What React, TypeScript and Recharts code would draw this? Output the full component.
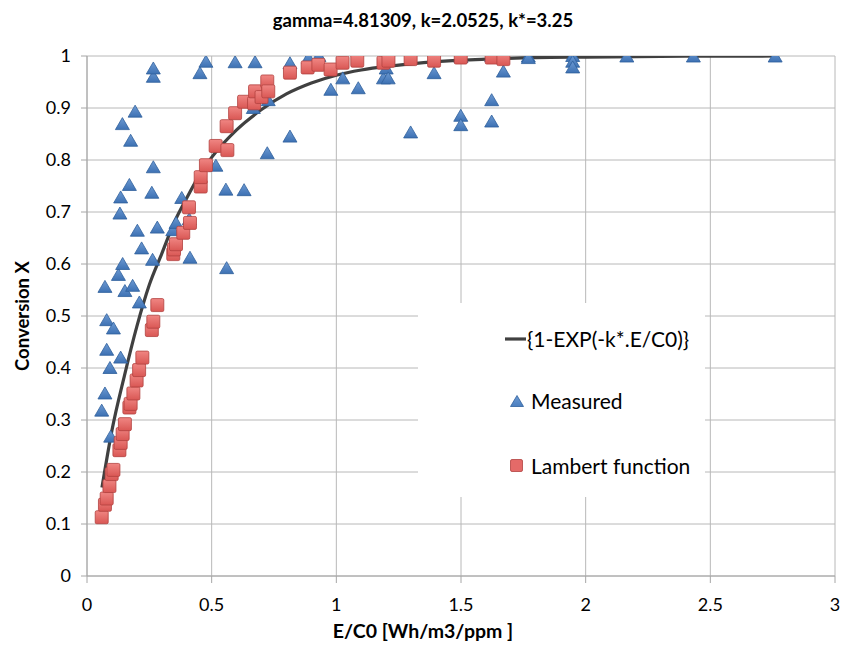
import React from 'react';
import { ComposedChart, Line, Scatter, XAxis, YAxis, CartesianGrid } from 'recharts';

const xTicks = [0, 0.5, 1, 1.5, 2, 2.5, 3];
const yTicks = [0, 0.1, 0.2, 0.3, 0.4, 0.5, 0.6, 0.7, 0.8, 0.9, 1];

const titleText = 'gamma=4.81309, k=2.0525, k*=3.25';
const xTitle = 'E/C0 [Wh/m3/ppm ]';
const yTitle = 'Conversion X';
const curveName = '{1-EXP(-k*.E/C0)}';
const measuredName = 'Measured';
const lambertName = 'Lambert function';

// Fitted curve
const curveX = [0.06, 0.1, 0.15, 0.2, 0.25, 0.3, 0.35, 0.4, 0.45, 0.5, 0.6, 0.7, 0.8, 0.9, 1.0, 1.1, 1.2, 1.3, 1.4, 1.5, 1.6, 1.8, 2.0, 2.4, 2.76];
const curveY = [0.17, 0.28, 0.385, 0.48, 0.56, 0.62, 0.68, 0.727, 0.77, 0.805, 0.858, 0.897, 0.927, 0.948, 0.963, 0.973, 0.98, 0.985, 0.989, 0.992, 0.994, 0.997, 0.998, 0.9995, 1.0];

// Measured points
const measuredX = [0.059, 0.072, 0.079, 0.079, 0.072, 0.092, 0.106, 0.095, 0.135, 0.126, 0.143, 0.152, 0.132, 0.135, 0.142, 0.17, 0.175, 0.193, 0.183, 0.202, 0.21, 0.219, 0.263, 0.26, 0.266, 0.266, 0.266, 0.282, 0.344, 0.357, 0.38, 0.41, 0.413, 0.453, 0.477, 0.517, 0.557, 0.56, 0.594, 0.63, 0.674, 0.667, 0.723, 0.727, 0.814, 0.814, 0.888, 0.93, 0.978, 1.026, 1.088, 1.189, 1.2, 1.208, 1.298, 1.392, 1.499, 1.499, 1.5, 1.623, 1.623, 1.623, 1.67, 1.77, 1.77, 1.948, 1.948, 1.948, 2.165, 2.432, 2.76];
const measuredY = [0.318, 0.351, 0.435, 0.492, 0.556, 0.4, 0.476, 0.268, 0.42, 0.579, 0.6, 0.548, 0.697, 0.728, 0.869, 0.752, 0.837, 0.893, 0.558, 0.664, 0.526, 0.63, 0.608, 0.737, 0.786, 0.96, 0.976, 0.67, 0.665, 0.679, 0.727, 0.686, 0.612, 0.967, 0.989, 0.789, 0.743, 0.592, 0.988, 0.742, 0.988, 0.9, 0.813, 0.915, 0.845, 0.986, 0.996, 1.0, 0.935, 0.957, 0.938, 0.957, 0.976, 0.957, 0.853, 0.967, 0.885, 0.867, 0.998, 0.915, 0.874, 1.0, 0.97, 0.999, 0.996, 1.0, 0.989, 0.978, 0.999, 0.999, 0.999];

// Lambert function points
const lambertX = [0.059, 0.072, 0.079, 0.09, 0.099, 0.106, 0.13, 0.135, 0.143, 0.152, 0.17, 0.175, 0.186, 0.199, 0.209, 0.222, 0.26, 0.266, 0.282, 0.346, 0.349, 0.357, 0.386, 0.409, 0.413, 0.456, 0.456, 0.477, 0.516, 0.563, 0.56, 0.594, 0.63, 0.67, 0.674, 0.7, 0.723, 0.727, 0.814, 0.885, 0.928, 0.977, 1.025, 1.084, 1.189, 1.209, 1.298, 1.392, 1.499, 1.623, 1.67];
const lambertY = [0.113, 0.137, 0.149, 0.173, 0.196, 0.204, 0.242, 0.256, 0.273, 0.292, 0.324, 0.331, 0.351, 0.376, 0.396, 0.42, 0.473, 0.489, 0.521, 0.619, 0.628, 0.638, 0.66, 0.709, 0.679, 0.749, 0.767, 0.79, 0.827, 0.819, 0.865, 0.89, 0.912, 0.909, 0.932, 0.921, 0.951, 0.932, 0.968, 0.978, 0.983, 0.974, 0.987, 0.991, 0.987, 0.991, 0.994, 0.991, 0.997, 0.997, 0.994];

const curveData = curveX.map((x, i) => ({ x, y: curveY[i] }));
const measuredData = measuredX.map((x, i) => ({ x, y: measuredY[i] }));
const lambertData = lambertX.map((x, i) => ({ x, y: lambertY[i] }));

const FONT = 'Lato, "Open Sans", sans-serif';
const BLUE = '#4a7ebf';
const BLUE_EDGE = '#2f5f9c';
const RED = '#e46a68';
const RED_EDGE = '#b2413f';

const Triangle = (props: any) => {
  const { cx, cy } = props;
  if (cx == null || cy == null) return null;
  return (
    <polygon
      points={`${cx},${cy - 6.5} ${cx - 7},${cy + 5.5} ${cx + 7},${cy + 5.5}`}
      fill="url(#triGrad)"
      stroke={BLUE_EDGE}
      strokeWidth={0.8}
    />
  );
};

const Square = (props: any) => {
  const { cx, cy } = props;
  if (cx == null || cy == null) return null;
  return (
    <rect x={cx - 6.5} y={cy - 6.5} width={13} height={13} rx={1.5} fill="url(#sqGrad)" stroke={RED_EDGE} strokeWidth={0.8} />
  );
};

export default function App() {
  return (
    <div style={{ position: 'absolute', left: 0, top: 0, width: 842, height: 648, background: '#fff', fontFamily: FONT }}>
      <div
        style={{
          position: 'absolute',
          left: 0,
          width: 846,
          top: 8,
          textAlign: 'center',
          fontWeight: 700,
          fontSize: 18.5,
          lineHeight: '24px',
          color: '#000',
        }}
      >
        {titleText}
      </div>
      <ComposedChart width={842} height={648} margin={{ top: 56, right: 7, left: 0, bottom: 0 }} style={{ overflow: 'visible' }}>
        <defs>
          <linearGradient id="triGrad" x1="0" y1="0" x2="0" y2="1">
            <stop offset="0%" stopColor="#6d9ad3" />
            <stop offset="100%" stopColor="#3d71b3" />
          </linearGradient>
          <linearGradient id="sqGrad" x1="0" y1="0" x2="0" y2="1">
            <stop offset="0%" stopColor="#f08683" />
            <stop offset="100%" stopColor="#d95754" />
          </linearGradient>
        </defs>
        <CartesianGrid stroke="#b8b8b8" strokeWidth={1} vertical horizontal />
        <XAxis
          type="number"
          dataKey="x"
          domain={[0, 3]}
          ticks={xTicks}
          tickFormatter={(v: number) => String(v)}
          allowDataOverflow
          height={72}
          stroke="#a6a6a6"
          tickSize={7}
          tickMargin={15}
          tick={{ fill: '#000', fontSize: 18, fontFamily: FONT }}
        />
        <YAxis
          type="number"
          dataKey="y"
          domain={[0, 1]}
          ticks={yTicks}
          tickFormatter={(v: number) => String(v)}
          allowDataOverflow
          width={87}
          stroke="#a6a6a6"
          tickSize={6}
          tickMargin={10}
          tick={{ fill: '#000', fontSize: 18, fontFamily: FONT }}
        />
        <Line
          data={curveData}
          dataKey="y"
          type="monotone"
          stroke="#404040"
          strokeWidth={3.2}
          dot={false}
          activeDot={false}
          isAnimationActive={false}
          legendType="none"
        />
        <Scatter data={measuredData} dataKey="y" shape={<Triangle />} isAnimationActive={false} />
        <Scatter data={lambertData} dataKey="y" shape={<Square />} isAnimationActive={false} />
      </ComposedChart>
      <div
        style={{
          position: 'absolute',
          left: 7,
          top: 0,
          width: 30,
          height: 632,
          display: 'flex',
          alignItems: 'center',
          justifyContent: 'center',
        }}
      >
        <div style={{ transform: 'rotate(-90deg)', whiteSpace: 'nowrap', fontWeight: 700, fontSize: 18.5, color: '#000' }}>
          {yTitle}
        </div>
      </div>
      <div
        style={{
          position: 'absolute',
          left: 0,
          width: 846,
          top: 619,
          textAlign: 'center',
          fontWeight: 700,
          fontSize: 19.5,
          lineHeight: '24px',
          color: '#000',
        }}
      >
        {xTitle}
      </div>
      <div
        style={{
          position: 'absolute',
          left: 418,
          top: 303,
          width: 287,
          height: 194,
          background: '#fff',
          fontSize: 21,
          color: '#000',
        }}
      >
        <div style={{ position: 'absolute', left: 87, top: 23, display: 'flex', alignItems: 'center', whiteSpace: 'nowrap' }}>
          <svg width={21} height={10} style={{ marginRight: 1 }}>
            <line x1={0} y1={5} x2={21} y2={5} stroke="#404040" strokeWidth={3.2} />
          </svg>
          <span>{curveName}</span>
        </div>
        <div style={{ position: 'absolute', left: 92, top: 85, display: 'flex', alignItems: 'center', whiteSpace: 'nowrap' }}>
          <svg width={14} height={12} style={{ marginRight: 7 }}>
            <defs>
              <linearGradient id="legTri" x1="0" y1="0" x2="0" y2="1">
                <stop offset="0%" stopColor="#6d9ad3" />
                <stop offset="100%" stopColor={BLUE} />
              </linearGradient>
            </defs>
            <polygon points="7,0.5 0.5,11.5 13.5,11.5" fill="url(#legTri)" stroke={BLUE_EDGE} strokeWidth={0.8} />
          </svg>
          <span>{measuredName}</span>
        </div>
        <div style={{ position: 'absolute', left: 92, top: 150, display: 'flex', alignItems: 'center', whiteSpace: 'nowrap' }}>
          <svg width={13} height={13} style={{ marginRight: 8 }}>
            <rect x={0.5} y={0.5} width={12} height={12} rx={1.5} fill={RED} stroke={RED_EDGE} strokeWidth={0.8} />
          </svg>
          <span>{lambertName}</span>
        </div>
      </div>
    </div>
  );
}
